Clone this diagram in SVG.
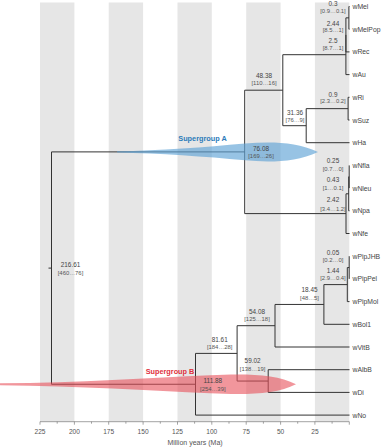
<svg xmlns="http://www.w3.org/2000/svg" width="381" height="447" viewBox="0 0 381 447">
<style>
.band{fill:#e6e6e6}
.br{fill:none;stroke:#333;stroke-width:1}
.ax{fill:none;stroke:#666;stroke-width:0.6}
.tip{font-family:"Liberation Sans",Arial,sans-serif;font-size:6.8px;fill:#444}
.num{font-family:"Liberation Sans",Arial,sans-serif;font-size:6.4px;fill:#444;text-anchor:middle}
.ci{font-family:"Liberation Sans",Arial,sans-serif;font-size:5.9px;fill:#555;text-anchor:middle}
.tk{font-family:"Liberation Sans",Arial,sans-serif;font-size:6.6px;fill:#555;text-anchor:middle}
.sg{font-family:"Liberation Sans",Arial,sans-serif;font-size:7.3px;font-weight:bold}
</style>
<rect width="381" height="447" fill="#fff"/>
<g id="bands">
<rect class="band" x="40" y="2.5" width="34.4" height="419.2"/>
<rect class="band" x="108.7" y="2.5" width="34.4" height="419.2"/>
<rect class="band" x="177.5" y="2.5" width="34.3" height="419.2"/>
<rect class="band" x="246.2" y="2.5" width="34.4" height="419.2"/>
<rect class="band" x="314.9" y="2.5" width="34.4" height="419.2"/>
</g>
<g id="connectors">
<path class="br" d="M48.5,268.1H51.5M51.5,151.9V384.25M51.5,151.9H244.7M51.5,384.25H195.5
M244.7,90.2V213.6M244.7,90.2H282.8M244.7,213.6H346
M282.8,54.7V125.7M282.8,54.7H345.9M282.8,125.7H306.2
M345.9,34.9V74.6M345.9,74.6H349.5M345.9,17.85V51.9M345.9,51.9H349.5M345.9,17.85H348.9M348.9,6.5V29.2M348.9,6.5H349.5M348.9,29.2H349.5
M306.2,108.65V142.7M306.2,142.7H349.5M306.2,108.65H348.1M348.1,97.3V120M348.1,97.3H349.5M348.1,120H349.5
M346,193.8V233.5M346,233.5H349.5M346,193.8H348.7M348.7,176.75V210.8M348.7,210.8H349.5M348.7,176.75H349.2M349.2,165.4V188.1
M195.5,353.4V415.1M195.5,415.1H349.5M195.5,353.4H237.1
M237.1,325.7V381.05M237.1,325.7H275M237.1,381.05H268.2
M268.2,369.7V392.4M268.2,369.7H349.5M268.2,392.4H349.5
M275,304.45V347M275,347H349.5M275,304.45H323.9
M323.9,284.6V324.3M323.9,324.3H349.5M323.9,284.6H347.3
M347.3,267.55V301.6M347.3,301.6H349.5M347.3,267.55H349.2M349.2,256.2V278.9"/>
</g>
<g id="distributions">
<path d="M117,151.3C160,150.6 205,147.2 245,143.5C270,141.3 296,141.6 318,151.9C296,162.2 270,162.5 245,160.3C205,156.6 160,153.2 117,152.5Z" fill="#5fa3d6" fill-opacity="0.65"/>
<path d="M0,383.3C80,382.5 150,378 210,375.2C245,373.6 276,373.8 296,384.25C276,394.7 245,394.9 210,393.3C150,390.5 80,386 0,385.2Z" fill="#e8505a" fill-opacity="0.6"/>
</g>
<g id="axis">
<path class="ax" d="M40,421.7H349.3M40,421.7v3M74.4,421.7v3M108.7,421.7v3M143.1,421.7v3M177.5,421.7v3M211.8,421.7v3M246.2,421.7v3M280.6,421.7v3M314.9,421.7v3M349.3,421.7v3M57.2,421.7v2M91.5,421.7v2M125.9,421.7v2M160.3,421.7v2M194.6,421.7v2M229,421.7v2M263.4,421.7v2M297.7,421.7v2M332.1,421.7v2"/>
<text class="tk" x="40" y="434">225</text>
<text class="tk" x="74.4" y="434">200</text>
<text class="tk" x="108.7" y="434">175</text>
<text class="tk" x="143.1" y="434">150</text>
<text class="tk" x="177.5" y="434">125</text>
<text class="tk" x="211.8" y="434">100</text>
<text class="tk" x="246.2" y="434">75</text>
<text class="tk" x="280.6" y="434">50</text>
<text class="tk" x="314.9" y="434">25</text>
<text class="tk" x="195" y="445" style="font-size:7px">Million years (Ma)</text>
</g>
<g id="tips">
<g id="tip-wMel"><text class="tip" x="352.5" y="9">wMel</text></g>
<g id="tip-wMelPop"><text class="tip" x="352.5" y="31.7">wMelPop</text></g>
<g id="tip-wRec"><text class="tip" x="352.5" y="54.4">wRec</text></g>
<g id="tip-wAu"><text class="tip" x="352.5" y="77.1">wAu</text></g>
<g id="tip-wRi"><text class="tip" x="352.5" y="99.8">wRi</text></g>
<g id="tip-wSuz"><text class="tip" x="352.5" y="122.5">wSuz</text></g>
<g id="tip-wHa"><text class="tip" x="352.5" y="145.2">wHa</text></g>
<g id="tip-wNfla"><text class="tip" x="352.5" y="167.9">wNfla</text></g>
<g id="tip-wNleu"><text class="tip" x="352.5" y="190.6">wNleu</text></g>
<g id="tip-wNpa"><text class="tip" x="352.5" y="213.3">wNpa</text></g>
<g id="tip-wNfe"><text class="tip" x="352.5" y="236">wNfe</text></g>
<g id="tip-wPipJHB"><text class="tip" x="352.5" y="258.7">wPipJHB</text></g>
<g id="tip-wPipPel"><text class="tip" x="352.5" y="281.4">wPipPel</text></g>
<g id="tip-wPipMol"><text class="tip" x="352.5" y="304.1">wPipMol</text></g>
<g id="tip-wBol1"><text class="tip" x="352.5" y="326.8">wBol1</text></g>
<g id="tip-wVitB"><text class="tip" x="352.5" y="349.5">wVitB</text></g>
<g id="tip-wAlbB"><text class="tip" x="352.5" y="372.2">wAlbB</text></g>
<g id="tip-wDi"><text class="tip" x="352.5" y="394.9">wDi</text></g>
<g id="tip-wNo"><text class="tip" x="352.5" y="417.6">wNo</text></g>
</g>
<g id="nodes">
<g id="node-0.3"><text class="num" x="333" y="5.8">0.3</text><text class="ci" x="333" y="13.2">[0.9…0.1]</text></g>
<g id="node-2.44"><text class="num" x="333" y="26">2.44</text><text class="ci" x="333" y="32.2">[8.5…1]</text></g>
<g id="node-2.5"><text class="num" x="333" y="43.3">2.5</text><text class="ci" x="333" y="49.6">[8.7…1]</text></g>
<g id="node-0.9"><text class="num" x="333" y="96.7">0.9</text><text class="ci" x="333" y="103.1">[2.3…0.2]</text></g>
<g id="node-48.38"><text class="num" x="264" y="78">48.38</text><text class="ci" x="264" y="84.7">[110…16]</text></g>
<g id="node-31.36"><text class="num" x="295" y="115.3">31.36</text><text class="ci" x="295" y="122">[76…9]</text></g>
<g id="node-76.08"><text class="num" x="261" y="150.5">76.08</text><text class="ci" x="261" y="157.7">[169…26]</text></g>
<g id="node-0.25"><text class="num" x="333" y="163.3">0.25</text><text class="ci" x="333" y="170.7">[0.7…0]</text></g>
<g id="node-0.43"><text class="num" x="333" y="182.3">0.43</text><text class="ci" x="333" y="189.5">[1…0.1]</text></g>
<g id="node-2.42"><text class="num" x="333" y="201.7">2.42</text><text class="ci" x="333" y="210.5">[3.4…1.2]</text></g>
<g id="node-0.05"><text class="num" x="333" y="255">0.05</text><text class="ci" x="333" y="261.5">[0.2…0]</text></g>
<g id="node-1.44"><text class="num" x="333" y="273.3">1.44</text><text class="ci" x="333" y="280">[2.9…0.4]</text></g>
<g id="node-18.45"><text class="num" x="309.5" y="292.3">18.45</text><text class="ci" x="309.5" y="299.8">[48…5]</text></g>
<g id="node-54.08"><text class="num" x="257" y="314.3">54.08</text><text class="ci" x="257" y="320.8">[125…18]</text></g>
<g id="node-81.61"><text class="num" x="219.7" y="342.3">81.61</text><text class="ci" x="219.7" y="349">[184…28]</text></g>
<g id="node-59.02"><text class="num" x="252.6" y="363.3">59.02</text><text class="ci" x="252.6" y="370.5">[138…19]</text></g>
<g id="node-111.88"><text class="num" x="212.8" y="382.5">111.88</text><text class="ci" x="212.8" y="390.7">[254…39]</text></g>
<g id="node-216.61"><text class="num" x="70.5" y="266.7">216.61</text><text class="ci" x="70.5" y="274.7">[460…76]</text></g>
<g id="label-A"><text class="sg" x="178.3" y="140.8" fill="#2b7bb9">Supergroup A</text></g>
<g id="label-B"><text class="sg" x="145.7" y="373.8" fill="#e0303c">Supergroup B</text></g>
</g>
</svg>
